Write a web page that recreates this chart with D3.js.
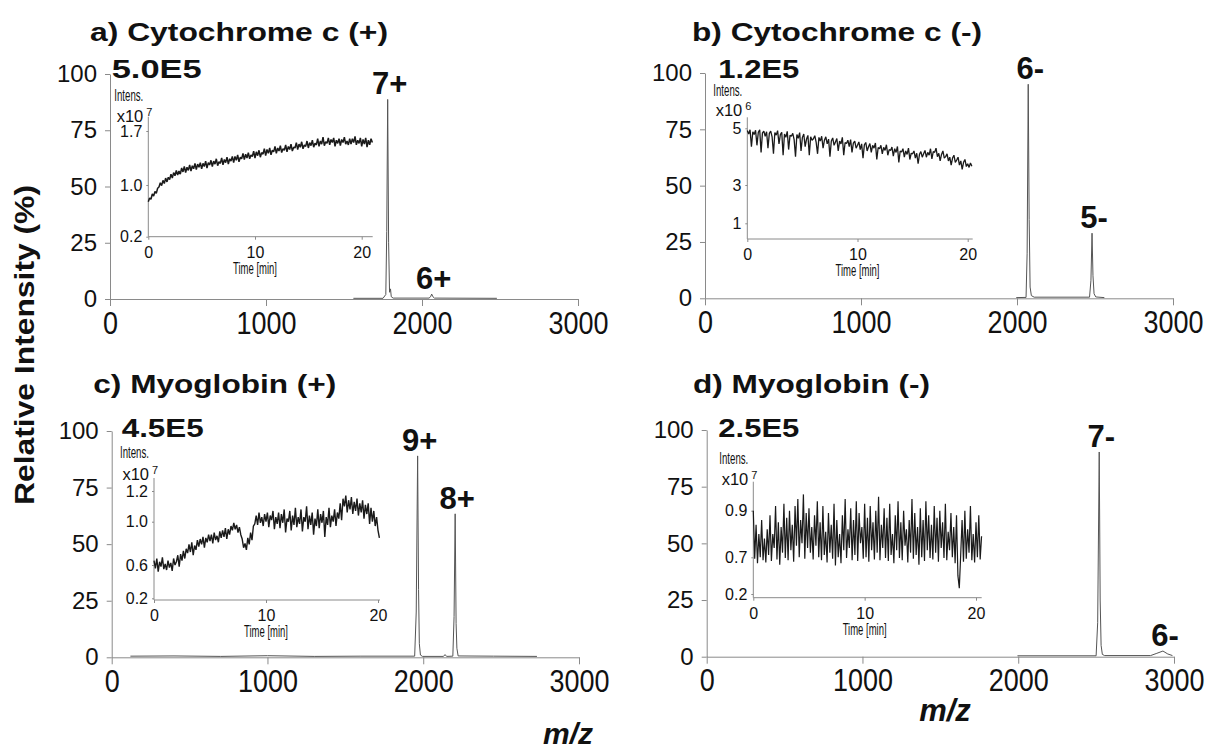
<!DOCTYPE html>
<html><head><meta charset="utf-8">
<script src="https://cdn.jsdelivr.net/npm/d3@7"></script>
<style>
body{margin:0;background:#fff;}
svg{display:block;}
text{font-family:"Liberation Sans",Arial,Helvetica,sans-serif;fill:#111;}
</style>
</head><body>
<svg id="chart" width="1215" height="751"></svg>
<script>
// ---------------- DATA ----------------
const panelTitles = ["a) Cytochrome c (+)", "b) Cytochrome c (-)", "c) Myoglobin (+)", "d) Myoglobin (-)"];
const panelScaleLabels = ["5.0E5", "1.2E5", "4.5E5", "2.5E5"];
const mzTicks = [0, 1000, 2000, 3000];
const intensityTicks = [0, 25, 50, 75, 100];
const yAxisTitle = "Relative Intensity (%)";
const xAxisTitle = "m/z";

// spectra: [m/z, relative intensity %]
const spectrumA = [[1560,0.3],[1750,0.3],[1768,2],[1774,30],[1780,88.7],[1786,25],[1792,3],[1798,4.5],[1803,1],[1815,0.4],[2045,0.4],[2055,1],[2062,2.2],[2070,1],[2080,0.4],[2480,0.3]];
const spectrumB = [[1995,0.3],[2058,0.4],[2065,20],[2072,95],[2078,35],[2084,5],[2092,1.2],[2110,0.5],[2465,0.5],[2474,8],[2481,28.9],[2487,10],[2494,2],[2505,0.6],[2560,0.3]];
const spectrumC = [[120,0.5],[400,0.6],[700,0.4],[1000,0.7],[1300,0.4],[1600,0.5],[1945,0.5],[1955,20],[1964,89],[1970,30],[1975,6],[1982,1],[1995,0.4],[2130,0.4],[2140,1.2],[2150,0.4],[2190,0.5],[2198,18],[2205,63.4],[2211,15],[2216,4],[2224,0.6],[2450,0.5],[2730,0.4]];
const spectrumD = [[1995,0.4],[2500,0.4],[2510,15],[2520,90.3],[2526,25],[2532,5],[2540,1],[2555,0.5],[2850,0.5],[2890,1.5],[2929,2.5],[2960,1.2],[2990,0.5]];

// charge-state labels: [label, m/z, intensity]
const peaksA = [["7+",1780,88.7],["6+",2062,2.2]];
const peaksB = [["6-",2072,95],["5-",2481,28.9]];
const peaksC = [["9+",1964,89],["8+",2205,63.4]];
const peaksD = [["7-",2520,90.3],["6-",2929,2.5]];

// inset chromatograms (sampled every 0.125 min)
const insetTimeStep = 0.125;
const timeTicks = [0, 10, 20];
const insetXLabel = "Time [min]";
const insetYLabel = "Intens.";
const insetAExp = "7", insetBExp = "6", insetCExp = "7", insetDExp = "7";
const insetATicks = [0.2, 1.0, 1.7];
const insetBTicks = [1, 3, 5];
const insetCTicks = [0.2, 0.6, 1.0, 1.2];
const insetDTicks = [0.2, 0.7, 0.9];
const insetAValues = [
0.74,0.80,0.78,0.86,0.83,0.90,0.87,0.95,
0.97,1.03,0.99,1.06,1.02,1.09,1.04,1.10,
1.07,1.14,1.09,1.16,1.12,1.19,1.13,1.18,
1.14,1.22,1.17,1.24,1.16,1.23,1.19,1.26,
1.18,1.25,1.21,1.28,1.20,1.27,1.23,1.29,
1.21,1.28,1.24,1.31,1.22,1.29,1.26,1.32,
1.24,1.31,1.27,1.34,1.25,1.30,1.28,1.35,
1.26,1.33,1.29,1.36,1.27,1.34,1.31,1.37,
1.29,1.37,1.32,1.39,1.30,1.36,1.34,1.41,
1.33,1.40,1.35,1.42,1.34,1.39,1.37,1.44,
1.35,1.43,1.38,1.45,1.36,1.42,1.40,1.47,
1.38,1.46,1.41,1.48,1.39,1.45,1.43,1.50,
1.41,1.48,1.44,1.51,1.42,1.47,1.45,1.52,
1.43,1.50,1.46,1.53,1.44,1.49,1.48,1.55,
1.46,1.53,1.49,1.56,1.47,1.52,1.50,1.57,
1.48,1.55,1.51,1.58,1.49,1.54,1.52,1.60,
1.50,1.57,1.53,1.62,1.51,1.56,1.54,1.61,
1.52,1.59,1.55,1.61,1.50,1.58,1.54,1.60,
1.51,1.59,1.55,1.62,1.53,1.57,1.52,1.60,
1.53,1.60,1.55,1.63,1.52,1.58,1.54,1.61,
1.50,1.59,1.53,1.61,1.49,1.58,1.52,1.60,
1.55];
const insetBValues = [
4.92,4.80,4.95,4.35,4.88,4.78,4.93,4.40,
4.86,4.95,4.15,4.84,4.90,4.72,4.88,4.30,
4.82,4.90,4.70,4.10,4.85,4.76,4.92,4.45,
4.78,4.86,4.05,4.80,4.68,4.89,4.25,4.75,
4.72,4.82,4.60,4.00,4.78,4.65,4.85,4.20,
4.68,4.80,4.35,4.62,4.75,4.05,4.70,4.58,
4.63,4.74,4.50,4.10,4.68,4.55,4.72,4.30,
4.58,4.70,4.45,4.62,4.00,4.55,4.66,4.40,
4.52,4.64,4.20,4.55,4.45,4.68,4.05,4.50,
4.46,4.58,4.35,4.60,4.15,4.48,4.55,4.30,
4.40,4.52,4.25,4.45,3.95,4.42,4.50,4.20,
4.35,4.46,4.15,4.40,4.30,4.48,3.90,4.32,
4.28,4.40,4.10,4.33,4.22,4.42,4.05,4.25,
4.22,4.34,4.02,4.28,4.15,4.36,3.80,4.20,
4.16,4.28,3.98,4.20,4.08,4.30,3.90,4.12,
4.10,4.20,3.95,4.12,3.75,4.08,4.18,3.98,
4.10,4.22,3.98,4.15,4.05,4.28,3.92,4.18,
4.15,4.30,4.00,4.12,3.85,4.08,4.20,3.95,
4.00,4.10,3.85,3.98,3.70,3.95,4.05,3.80,
3.88,3.98,3.70,3.85,3.55,3.80,3.90,3.65,
3.75,3.62,3.78,3.66];
const insetCValues = [
0.64,0.56,0.66,0.52,0.63,0.58,0.67,0.55,
0.61,0.54,0.64,0.57,0.62,0.53,0.66,0.60,
0.63,0.69,0.58,0.70,0.64,0.73,0.66,0.75,
0.71,0.79,0.72,0.81,0.69,0.78,0.74,0.83,
0.77,0.84,0.79,0.86,0.76,0.85,0.81,0.88,
0.82,0.88,0.80,0.90,0.83,0.87,0.81,0.91,
0.85,0.92,0.86,0.94,0.84,0.93,0.88,0.96,
0.92,0.99,0.93,0.97,0.90,0.95,0.88,0.84,
0.76,0.80,0.74,0.85,0.79,0.90,0.83,0.96,
0.98,1.04,0.97,1.06,0.99,1.03,0.96,1.05,
1.00,1.06,0.95,1.04,1.01,1.07,0.93,1.03,
0.98,1.06,0.94,1.05,0.99,1.08,0.90,1.02,
1.00,1.07,0.92,1.04,0.97,1.09,0.95,1.03,
0.98,1.08,0.91,1.03,1.00,1.10,0.93,1.04,
0.97,1.06,0.88,1.02,0.96,1.08,0.94,1.05,
0.99,1.07,0.86,1.03,0.97,1.09,0.95,1.04,
1.00,1.08,0.96,1.06,1.02,1.12,1.01,1.15,
1.10,1.17,1.06,1.14,1.08,1.16,1.05,1.13,
1.07,1.15,1.04,1.12,1.06,1.14,1.02,1.11,
1.05,1.12,0.98,1.09,1.00,1.07,0.96,1.03,
0.92,0.85];
const insetDValues = [
0.90,0.68,0.84,0.62,0.80,0.70,0.86,0.66,
0.78,0.63,0.82,0.71,0.88,0.65,0.80,0.74,
0.92,0.67,0.85,0.60,0.83,0.72,0.93,0.69,
0.87,0.66,0.90,0.73,0.84,0.64,0.92,0.75,
0.95,0.70,0.86,0.76,0.97,0.68,0.89,0.74,
0.91,0.72,0.83,0.67,0.88,0.75,0.94,0.70,
0.85,0.66,0.92,0.71,0.81,0.63,0.89,0.72,
0.84,0.68,0.93,0.59,0.86,0.70,0.80,0.62,
0.88,0.73,0.95,0.69,0.82,0.74,0.91,0.66,
0.86,0.71,0.94,0.65,0.89,0.76,0.83,0.68,
0.93,0.70,0.87,0.64,0.92,0.73,0.85,0.67,
0.90,0.72,0.96,0.66,0.84,0.74,0.91,0.69,
0.87,0.65,0.93,0.71,0.80,0.62,0.88,0.73,
0.94,0.69,0.85,0.66,0.90,0.75,0.82,0.63,
0.86,0.72,0.95,0.68,0.89,0.71,0.83,0.60,
0.91,0.70,0.86,0.65,0.94,0.73,0.88,0.69,
0.84,0.67,0.92,0.72,0.87,0.64,0.90,0.74,
0.85,0.69,0.93,0.66,0.81,0.73,0.89,0.70,
0.83,0.62,0.88,0.45,0.28,0.71,0.86,0.64,
0.90,0.68,0.82,0.72,0.92,0.66,0.80,0.63,
0.85,0.70,0.88,0.67,0.79];

// ---------------- LAYOUT ----------------
const layouts = [
  {x0:110, x1:578, y0:299, y1:74, title:[90,41,298], scale:[111.7,78.3,90],
   inset:{x0:148.3, x20:361.7, xEnd:372.7, bottom:236.7, top:116.7, yRange:[236.7,185,131], fmt:".1f", w:1.5, x10dy:5, intDy:-16}},
  {x0:705, x1:1173, y0:298.3, y1:73, title:[692,41,290], scale:[718.3,78.3,81],
   inset:{x0:747.3, x20:967.7, xEnd:972.7, bottom:239, top:117.3, yRange:[223.3,185,128.3], fmt:"d", w:1.3, x10dy:-1, intDy:-21}},
  {x0:111.7, x1:579, y0:657.3, y1:431, title:[93.3,393,243], scale:[121.7,436.7,82],
   inset:{x0:154, x20:378, xEnd:380, bottom:600, top:478, yRange:[598.3,565,521.7,491], fmt:".1f", w:1.4, x10dy:2, intDy:-20}},
  {x0:706.7, x1:1174, y0:656.7, y1:430, title:[693,393,237], scale:[718.3,437.3,81],
   inset:{x0:753.3, x20:976, xEnd:981.7, bottom:597.7, top:481.7, yRange:[594,557.3,510.7], fmt:".1f", w:1.2, x10dy:3, intDy:-18}}
];
const spectra = [spectrumA, spectrumB, spectrumC, spectrumD];
const peakSets = [peaksA, peaksB, peaksC, peaksD];
const insetValues = [insetAValues, insetBValues, insetCValues, insetDValues];
const insetTicks = [insetATicks, insetBTicks, insetCTicks, insetDTicks];
const insetExps = [insetAExp, insetBExp, insetCExp, insetDExp];

const AXIS = "#8a8a8a";
const svg = d3.select("#chart");

function txt(g, s, x, y, size, weight, opts = {}) {
  const t = g.append("text").attr("x", x).attr("y", y).attr("font-size", size)
    .attr("font-weight", weight || "normal").text(s);
  if (opts.anchor) t.attr("text-anchor", opts.anchor);
  if (opts.len) t.attr("textLength", opts.len).attr("lengthAdjust", "spacingAndGlyphs");
  if (opts.style) t.attr("font-style", opts.style);
  return t;
}

layouts.forEach((L, p) => {
  const g = svg.append("g");
  const x = d3.scaleLinear().domain([0, 3000]).range([L.x0, L.x1]);
  const y = d3.scaleLinear().domain([0, 100]).range([L.y0, L.y1]);

  // main axes
  const xa = g.append("g").attr("transform", `translate(0,${L.y0})`)
    .call(d3.axisBottom(x).tickValues(mzTicks).tickSize(7).tickSizeOuter(0).tickPadding(5).tickFormat(d3.format("d")));
  xa.selectAll("path,line").attr("stroke", AXIS);
  xa.selectAll("text").attr("font-size", 32).attr("fill", "#111")
    .each(function(d){ d3.select(this).attr("textLength", String(d).length * 15).attr("lengthAdjust","spacingAndGlyphs"); });

  const ya = g.append("g").attr("transform", `translate(${L.x0},0)`)
    .call(d3.axisLeft(y).tickValues(intensityTicks).tickSize(5).tickSizeOuter(0).tickPadding(8));
  ya.selectAll("path,line").attr("stroke", AXIS);
  ya.selectAll("text").attr("font-size", 24).attr("fill", "#111");

  // spectrum
  g.append("path").datum(spectra[p])
    .attr("fill", "none").attr("stroke", "#555").attr("stroke-width", 1)
    .attr("d", d3.line().x(d => x(d[0])).y(d => y(d[1])));

  // peak labels
  peakSets[p].forEach(pk => {
    txt(g, pk[0], x(pk[1]) + 2, y(pk[2]) - 5, 31, "bold", {anchor: "middle"});
  });

  // titles
  txt(g, panelTitles[p], L.title[0], L.title[1], 26.5, "bold", {len: L.title[2]});
  txt(g, panelScaleLabels[p], L.scale[0], L.scale[1], 25.5, "bold", {len: L.scale[2]});

  // inset
  const I = L.inset;
  const vals = insetValues[p];
  const tx = d3.scaleLinear().domain([0, 20]).range([I.x0, I.x20]);
  const ty = d3.scaleLinear().domain(insetTicks[p]).range(I.yRange);
  const ig = g.append("g");
  ig.append("line").attr("x1", I.x0).attr("x2", I.x0).attr("y1", I.bottom).attr("y2", I.top).attr("stroke", AXIS);
  ig.append("line").attr("x1", I.x0).attr("x2", I.xEnd).attr("y1", I.bottom).attr("y2", I.bottom).attr("stroke", AXIS);
  const ixa = ig.append("g").attr("transform", `translate(0,${I.bottom})`)
    .call(d3.axisBottom(tx).tickValues(timeTicks).tickSize(3).tickPadding(7).tickFormat(d3.format("d")));
  ixa.select(".domain").remove();
  ixa.selectAll("line").attr("stroke", AXIS);
  ixa.selectAll("text").attr("font-size", 16).attr("fill", "#111");
  const iya = ig.append("g").attr("transform", `translate(${I.x0},0)`)
    .call(d3.axisLeft(ty).tickValues(insetTicks[p]).tickSize(2).tickPadding(4).tickFormat(d3.format(I.fmt)));
  iya.select(".domain").remove();
  iya.selectAll("line").attr("stroke", AXIS);
  iya.selectAll("text").attr("font-size", 16).attr("fill", "#111");

  ig.append("path").datum(vals)
    .attr("fill", "none").attr("stroke", "#1a1a1a").attr("stroke-width", I.w)
    .attr("stroke-linejoin", "bevel")
    .attr("d", d3.line().x((d, i) => tx(i * insetTimeStep)).y(d => ty(d)));

  txt(ig, insetXLabel, (I.x0 + I.x20) / 2, I.bottom + 37, 17, "normal", {anchor: "middle", len: 44});
  txt(ig, insetYLabel, I.x0 - 34, I.top + I.intDy, 16, "normal", {len: 29});
  txt(ig, "x10", I.x0 - 5, I.top + I.x10dy, 16.5, "normal", {anchor: "end"});
  txt(ig, insetExps[p], I.x0 - 2, I.top + I.x10dy - 6, 11, "normal");
});

// shared axis titles
txt(svg, yAxisTitle, 0, 0, 27, "bold", {anchor: "middle", len: 320})
  .attr("transform", "translate(34,345) rotate(-90)");
txt(svg, xAxisTitle, 568, 744, 30, "bold", {anchor: "middle", style: "italic"});
txt(svg, xAxisTitle, 945, 721, 31, "bold", {anchor: "middle", style: "italic"});
</script>
</body></html>
